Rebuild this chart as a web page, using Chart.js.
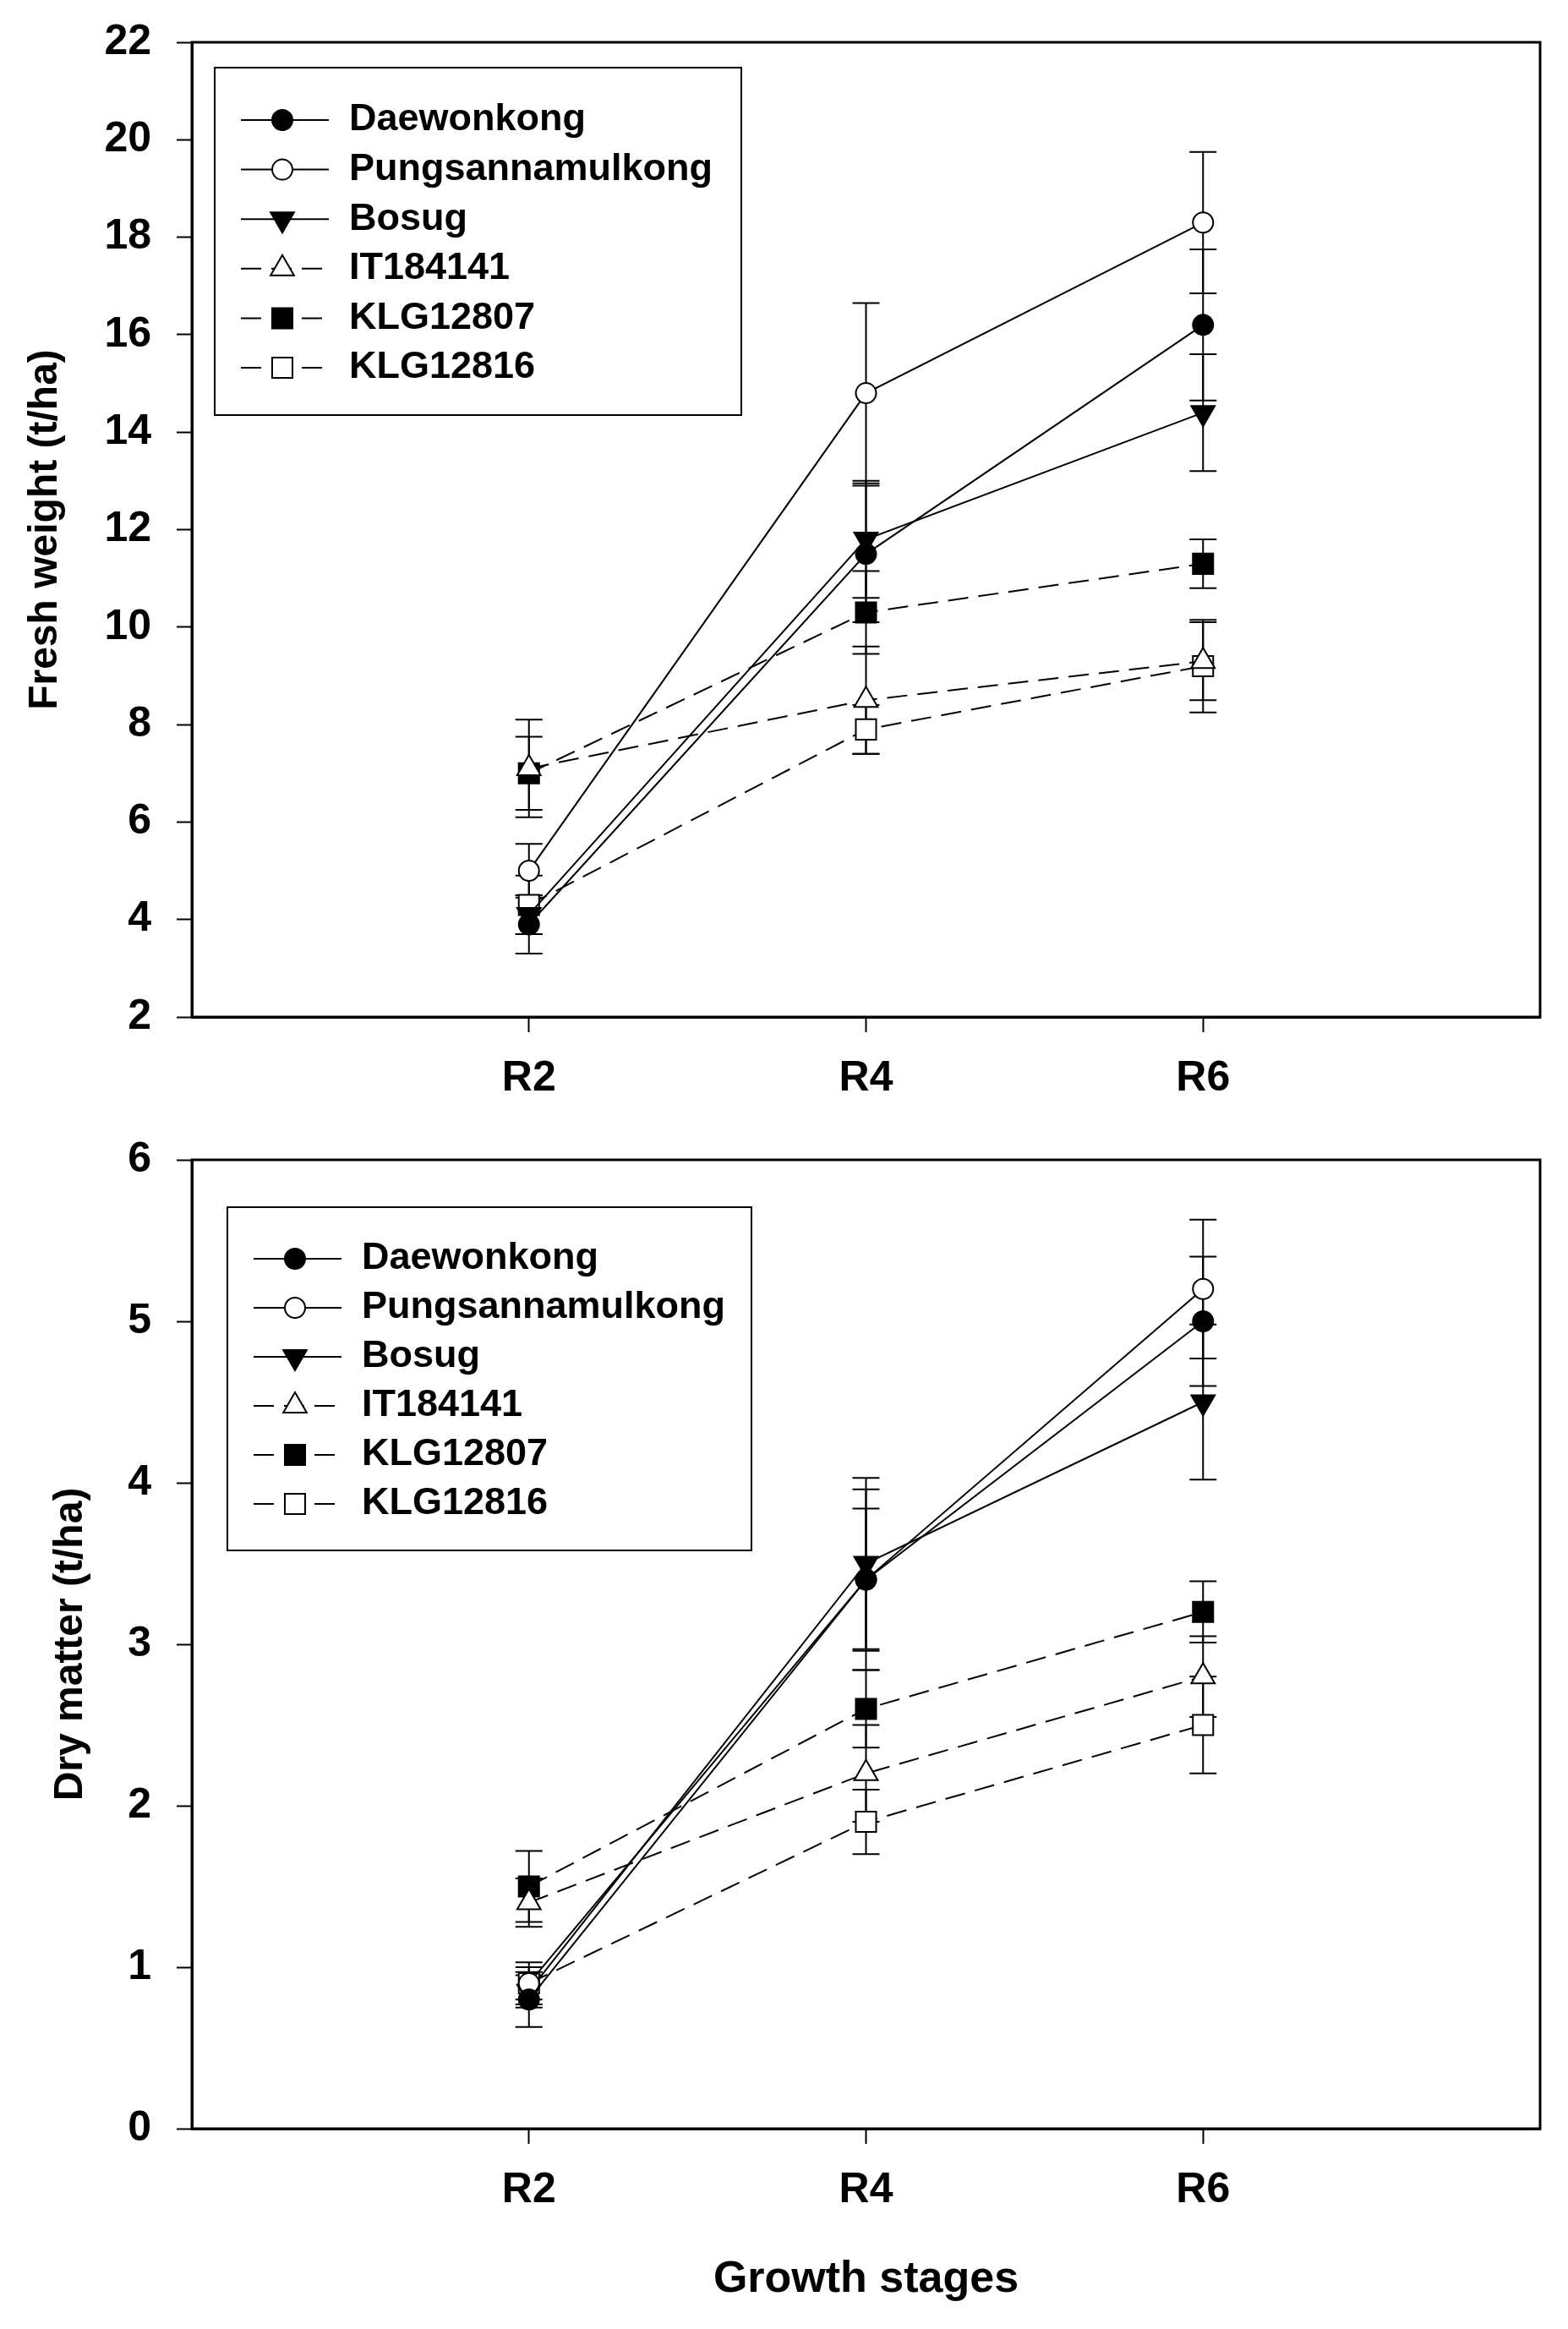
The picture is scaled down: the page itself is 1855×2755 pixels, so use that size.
<!DOCTYPE html>
<html>
<head>
<meta charset="utf-8">
<script src="https://cdn.jsdelivr.net/npm/chart.js@4.4.1/dist/chart.umd.min.js"></script>
<style>
  html, body { margin: 0; padding: 0; background: #fff; }
  body { width: 1855px; height: 2755px; position: relative; overflow: hidden; }
  canvas { position: absolute; left: 0; }
  #fresh { top: 0; }
  #dry { top: 1300px; }
</style>
</head>
<body>
<canvas id="fresh" width="1855" height="1300"></canvas>
<canvas id="dry" width="1855" height="1455"></canvas>
<script>
(function () {
    "use strict";

    const stages = ["R2", "R4", "R6"];
    const cultivars = ["Daewonkong", "Pungsannamulkong", "Bosug", "IT184141", "KLG12807", "KLG12816"];

    // fresh weight (t/ha), one row per cultivar, values at R2 / R4 / R6
    const freshMean = [
        [3.9, 11.5, 16.2],
        [5.0, 14.8, 18.3],
        [4.1, 11.8, 14.4],
        [7.1, 8.5, 9.3],
        [7.0, 10.3, 11.3],
        [4.3, 7.9, 9.2],
    ];
    const freshErr = [
        [0.6, 1.4, 1.55],
        [0.55, 1.85, 1.45],
        [0.4, 1.2, 1.2],
        [1.0, 1.1, 0.8],
        [0.75, 0.85, 0.5],
        [0.6, 0.5, 0.95],
    ];

    // dry matter (t/ha)
    const dryMean = [
        [0.8, 3.4, 5.0],
        [0.9, 3.4, 5.2],
        [0.85, 3.5, 4.5],
        [1.4, 2.2, 2.8],
        [1.5, 2.6, 3.2],
        [0.9, 1.9, 2.5],
    ];
    const dryErr = [
        [0.17, 0.56, 0.4],
        [0.1, 0.44, 0.43],
        [0.1, 0.53, 0.48],
        [0.15, 0.3, 0.25],
        [0.22, 0.24, 0.19],
        [0.13, 0.2, 0.3],
    ];

    const freshTicks = [2, 4, 6, 8, 10, 12, 14, 16, 18, 20, 22];
    const dryTicks = [0, 1, 2, 3, 4, 5, 6];

    // marker / line look per cultivar
    const looks = [
        { shape: "circle", fill: "#000", dash: [], radius: 12, rotation: 0 },
        { shape: "circle", fill: "#fff", dash: [], radius: 12, rotation: 0 },
        { shape: "triangle", fill: "#000", dash: [], radius: 16, rotation: 180 },
        { shape: "triangle", fill: "#fff", dash: [24, 12], radius: 16, rotation: 0 },
        { shape: "rect", fill: "#000", dash: [24, 12], radius: 17, rotation: 0 },
        { shape: "rect", fill: "#fff", dash: [24, 12], radius: 17, rotation: 0 },
    ];

    const FONT = '"Liberation Sans", Arial, sans-serif';
    const tickFont = { family: FONT, size: 50, weight: "bold" };
    const titleFont = { family: FONT, size: 48, weight: "bold" };

    const errorBars = {
        id: "errorBars",
        beforeDatasetsDraw(chart) {
            const { ctx, scales: { x, y } } = chart;
            const cap = 16;
            ctx.save();
            ctx.strokeStyle = "#000";
            ctx.lineWidth = 2;
            chart.data.datasets.forEach((ds) => {
                ds.data.forEach((p, i) => {
                    const e = ds.errors[i];
                    const px = x.getPixelForValue(p.x);
                    const hi = y.getPixelForValue(p.y + e);
                    const lo = y.getPixelForValue(p.y - e);
                    ctx.beginPath();
                    ctx.moveTo(px, hi);
                    ctx.lineTo(px, lo);
                    ctx.moveTo(px - cap, hi);
                    ctx.lineTo(px + cap, hi);
                    ctx.moveTo(px - cap, lo);
                    ctx.lineTo(px + cap, lo);
                    ctx.stroke();
                });
            });
            ctx.restore();
        },
    };

    const frame = {
        id: "frame",
        afterDatasetsDraw(chart) {
            const { ctx, chartArea: a } = chart;
            ctx.save();
            ctx.strokeStyle = "#000";
            ctx.lineWidth = 3;
            ctx.strokeRect(a.left, a.top, a.right - a.left, a.bottom - a.top);
            ctx.restore();
        },
    };

    const boxLegend = {
        id: "boxLegend",
        afterDatasetsDraw(chart, args, o) {
            const ctx = chart.ctx;
            ctx.save();
            ctx.strokeStyle = "#000";
            ctx.lineWidth = 2;
            ctx.fillStyle = "#fff";
            ctx.fillRect(o.left, o.top, o.width, o.height);
            ctx.strokeRect(o.left, o.top, o.width, o.height);
            chart.data.datasets.forEach((ds, k) => {
                const yy = o.firstRow + k * o.rowGap;
                ctx.setLineDash(ds.borderDash || []);
                ctx.beginPath();
                ctx.moveTo(o.left + 31, yy);
                ctx.lineTo(o.left + 135, yy);
                ctx.stroke();
                ctx.setLineDash([]);
                ctx.fillStyle = ds.pointBackgroundColor;
                Chart.helpers.drawPoint(ctx, {
                    pointStyle: ds.pointStyle,
                    radius: ds.pointRadius,
                    rotation: ds.pointRotation,
                    borderWidth: 2,
                }, o.left + 80, yy);
                ctx.fillStyle = "#000";
                ctx.font = "bold 45px " + FONT;
                ctx.textBaseline = "middle";
                ctx.textAlign = "left";
                ctx.fillText(ds.label, o.left + 159, yy);
            });
            ctx.restore();
        },
    };

    function makeChart(id, means, errs, ticks, cfg) {
        const datasets = cultivars.map((name, k) => {
            const lk = looks[k];
            return {
                label: name,
                data: stages.map((s, i) => ({ x: i + 1, y: means[k][i] })),
                errors: errs[k],
                borderColor: "#000",
                borderWidth: 2,
                borderDash: lk.dash,
                pointStyle: lk.shape,
                pointRotation: lk.rotation,
                pointRadius: lk.radius,
                pointHoverRadius: lk.radius,
                pointBackgroundColor: lk.fill,
                pointBorderColor: "#000",
                pointBorderWidth: 2,
                tension: 0,
                fill: false,
            };
        });

        return new Chart(document.getElementById(id), {
            type: "line",
            data: { datasets },
            options: {
                responsive: false,
                animation: false,
                devicePixelRatio: 1,
                layout: { padding: { top: cfg.padTop, right: 33, left: 0, bottom: 0 } },
                plugins: {
                    legend: { display: false },
                    tooltip: { enabled: false },
                    boxLegend: cfg.legend,
                },
                scales: {
                    x: {
                        type: "linear",
                        min: 0,
                        max: stages.length + 1,
                        afterBuildTicks: (s) => {
                            s.ticks = stages.map((_, i) => ({ value: i + 1 }));
                        },
                        afterFit: (s) => {
                            s.height = cfg.xHeight;
                            s.paddingLeft = 0;
                            s.paddingRight = 0;
                        },
                        ticks: {
                            callback: (v) => stages[v - 1],
                            font: tickFont,
                            color: "#000",
                            padding: 25,
                            maxRotation: 0,
                            autoSkip: false,
                        },
                        grid: { drawOnChartArea: false, tickLength: 18, tickWidth: 2, color: "#000" },
                        border: { display: true, color: "#000", width: 3 },
                        title: {
                            display: !!cfg.xTitle,
                            text: cfg.xTitle || "",
                            font: { family: FONT, size: 52, weight: "bold" },
                            color: "#000",
                            padding: { top: 0, bottom: 27 },
                        },
                    },
                    y: {
                        min: ticks[0],
                        max: ticks[ticks.length - 1],
                        afterBuildTicks: (s) => {
                            s.ticks = ticks.map((v) => ({ value: v }));
                        },
                        afterFit: (s) => {
                            s.width = 227;
                            s.paddingTop = 0;
                            s.paddingBottom = 0;
                        },
                        ticks: { font: tickFont, color: "#000", padding: 30 },
                        grid: { drawOnChartArea: false, tickLength: 18, tickWidth: 2, color: "#000" },
                        border: { display: true, color: "#000", width: 3 },
                        title: {
                            display: true,
                            text: cfg.yTitle,
                            font: titleFont,
                            color: "#000",
                            padding: { top: cfg.yTitlePad, bottom: 0 },
                        },
                    },
                },
            },
            plugins: [errorBars, frame, boxLegend],
        });
    }

    makeChart("fresh", freshMean, freshErr, freshTicks, {
        padTop: 50,
        xHeight: 97,
        yTitle: "Fresh weight (t/ha)",
        yTitlePad: 25,
        legend: { left: 254, top: 80, width: 623, height: 411, firstRow: 142, rowGap: 58.6 },
    });

    makeChart("dry", dryMean, dryErr, dryTicks, {
        padTop: 72,
        xHeight: 237,
        yTitle: "Dry matter (t/ha)",
        yTitlePad: 55,
        xTitle: "Growth stages",
        legend: { left: 269, top: 128, width: 620, height: 406, firstRow: 189, rowGap: 58 },
    });
})();
</script>
</body>
</html>
